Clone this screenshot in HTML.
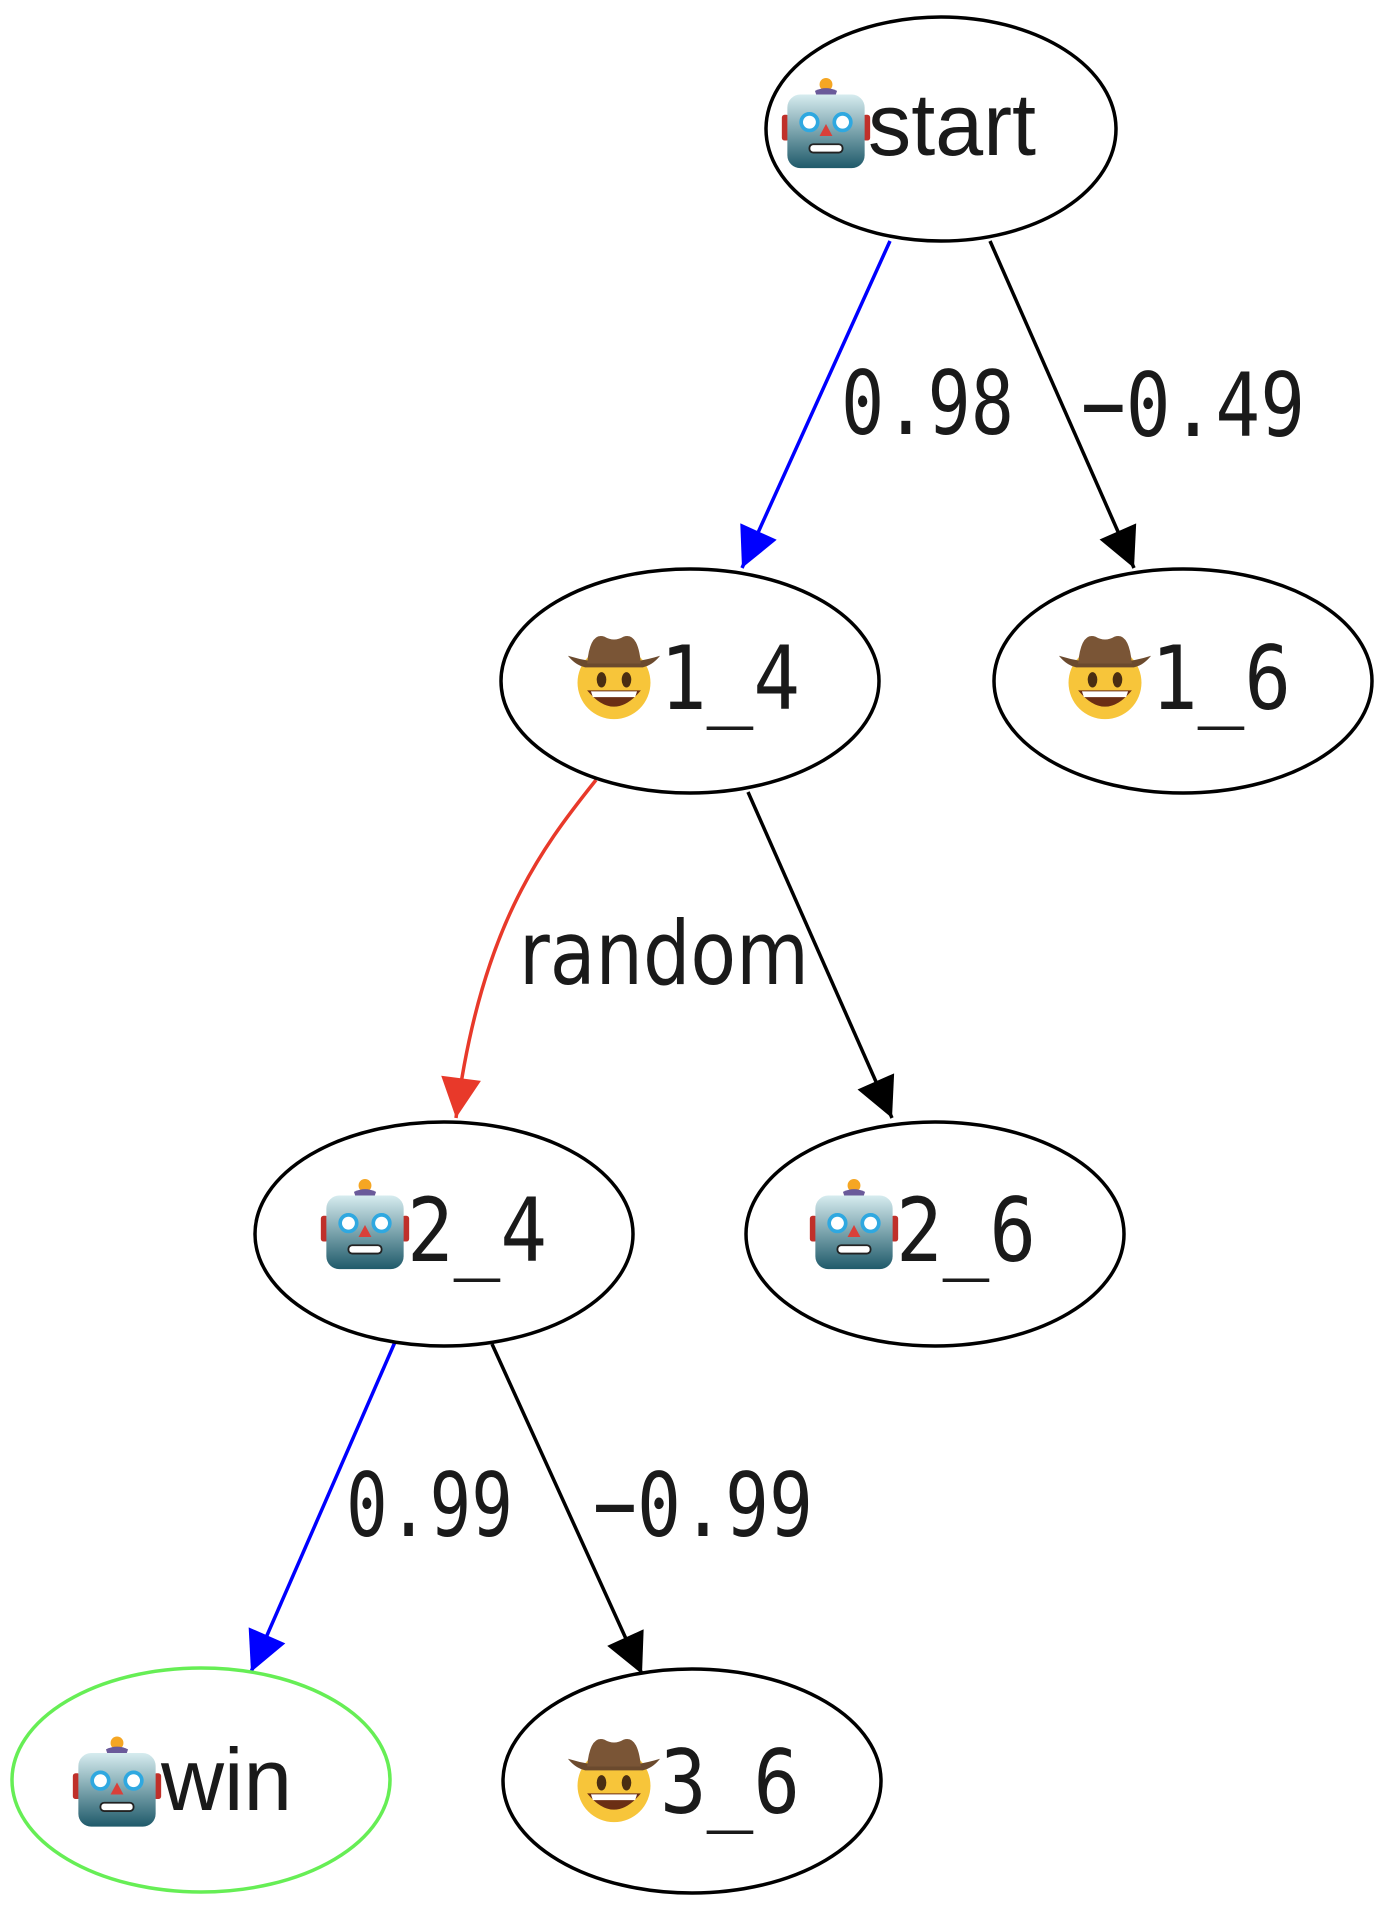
<!DOCTYPE html>
<html><head><meta charset="utf-8"><style>html,body{margin:0;padding:0;background:#fff}svg{display:block}</style></head>
<body>
<svg width="1390" height="1910" viewBox="0 0 1390 1910" xmlns="http://www.w3.org/2000/svg">
<defs>
<marker id="ab" viewBox="0 0 10 10" refX="10" refY="5" markerWidth="50" markerHeight="40" markerUnits="userSpaceOnUse" orient="auto"><path d="M0,0L10,5L0,10z" fill="#0000ff"/></marker>
<marker id="ak" viewBox="0 0 10 10" refX="10" refY="5" markerWidth="50" markerHeight="40" markerUnits="userSpaceOnUse" orient="auto"><path d="M0,0L10,5L0,10z" fill="#000"/></marker>
<marker id="ar" viewBox="0 0 10 10" refX="10" refY="5" markerWidth="50" markerHeight="40" markerUnits="userSpaceOnUse" orient="auto"><path d="M0,0L10,5L0,10z" fill="#e8392a"/></marker>
<symbol id="robot" viewBox="0 0 100 100">
<circle cx="50" cy="7" r="7" fill="#f5a623"/>
<path d="M38,14 Q50,8 62,14 L60,20 L40,20z" fill="#6a5a9a"/>
<rect x="2" y="40" width="8" height="28" rx="3" fill="#c0302a"/>
<rect x="90" y="40" width="8" height="28" rx="3" fill="#c0302a"/>
<defs><linearGradient id="rg" x1="0" y1="0" x2="0" y2="1"><stop offset="0" stop-color="#d6ecef"/><stop offset="1" stop-color="#1f5a6a"/></linearGradient></defs>
<rect x="8" y="18" width="84" height="80" rx="14" fill="url(#rg)"/>
<circle cx="32" cy="48" r="9" fill="#fff" stroke="#2fa8e0" stroke-width="4"/>
<circle cx="68" cy="48" r="9" fill="#fff" stroke="#2fa8e0" stroke-width="4"/>
<path d="M50,50 L57,63 L43,63z" fill="#d9403a"/>
<rect x="32" y="72" width="36" height="9" rx="4" fill="#fff" stroke="#222" stroke-width="2"/>
</symbol>
<symbol id="cowboy" viewBox="0 0 100 100">
<circle cx="50" cy="58" r="38" fill="#f7c53a"/>
<path d="M2,30 Q50,45 98,30 Q90,40 80,42 L20,42 Q10,40 2,30z" fill="#6b4a2e"/>
<path d="M22,38 Q25,5 40,10 Q50,16 60,10 Q75,5 78,38z" fill="#7a5536"/>
<ellipse cx="37" cy="55" rx="5" ry="8" fill="#4a2e12"/>
<ellipse cx="63" cy="55" rx="5" ry="8" fill="#4a2e12"/>
<path d="M22,66 Q50,100 78,66z" fill="#6b2e14"/>
<path d="M26,67 L74,67 L72,73 L28,73z" fill="#fff"/>
</symbol>
</defs>
<g fill="none" stroke-width="3.5">
<path d="M890,241L742,568" stroke="#0000ff" marker-end="url(#ab)"/>
<path d="M990,241L1134,568" stroke="#000" marker-end="url(#ak)"/>
<path d="M596,780C540,850 480,930 456,1118" stroke="#e8392a" marker-end="url(#ar)"/>
<path d="M748,792L892,1118" stroke="#000" marker-end="url(#ak)"/>
<path d="M395,1342L251,1672" stroke="#0000ff" marker-end="url(#ab)"/>
<path d="M492,1344L642,1674" stroke="#000" marker-end="url(#ak)"/>
</g>
<g fill="none" stroke="#000" stroke-width="3.5">
<ellipse cx="941" cy="129" rx="175" ry="112"/>
<ellipse cx="690" cy="681" rx="189" ry="112"/>
<ellipse cx="1183" cy="681" rx="189" ry="112"/>
<ellipse cx="444" cy="1234" rx="189" ry="112"/>
<ellipse cx="935" cy="1234" rx="189" ry="112"/>
<ellipse cx="692" cy="1781" rx="189" ry="112"/>
<ellipse cx="201" cy="1780" rx="189" ry="112" stroke="#66ee55"/>
</g>
<use href="#robot" x="780" y="77" width="92" height="94"/>
<use href="#cowboy" x="566" y="627" width="96" height="96"/>
<use href="#cowboy" x="1057" y="627" width="96" height="96"/>
<use href="#robot" x="319" y="1177" width="92" height="96"/>
<use href="#robot" x="808" y="1177" width="92" height="96"/>
<use href="#robot" x="71" y="1734" width="92" height="97"/>
<use href="#cowboy" x="566" y="1730" width="96" height="96"/>
<g fill="#1a1a1a" font-family="'DejaVu Sans Mono', monospace" font-size="88">
<text x="868" y="155" font-family="'Liberation Sans', sans-serif" textLength="168" lengthAdjust="spacingAndGlyphs">start</text>
<text x="660" y="709" textLength="140" lengthAdjust="spacingAndGlyphs">1_4</text>
<text x="1151" y="709" textLength="140" lengthAdjust="spacingAndGlyphs">1_6</text>
<text x="407" y="1261" textLength="140" lengthAdjust="spacingAndGlyphs">2_4</text>
<text x="896" y="1261" textLength="140" lengthAdjust="spacingAndGlyphs">2_6</text>
<text x="161" y="1810" font-family="'Liberation Sans', sans-serif" textLength="131" lengthAdjust="spacingAndGlyphs">win</text>
<text x="660" y="1813" textLength="140" lengthAdjust="spacingAndGlyphs">3_6</text>
<text x="841" y="434" textLength="173" lengthAdjust="spacingAndGlyphs">0.98</text>
<text x="1081" y="436" textLength="224" lengthAdjust="spacingAndGlyphs">−0.49</text>
<text x="519" y="984" font-family="'DejaVu Sans', sans-serif" textLength="290" lengthAdjust="spacingAndGlyphs">random</text>
<text x="346" y="1536" textLength="167" lengthAdjust="spacingAndGlyphs">0.99</text>
<text x="593" y="1536" textLength="220" lengthAdjust="spacingAndGlyphs">−0.99</text>
</g>
</svg>
</body></html>
